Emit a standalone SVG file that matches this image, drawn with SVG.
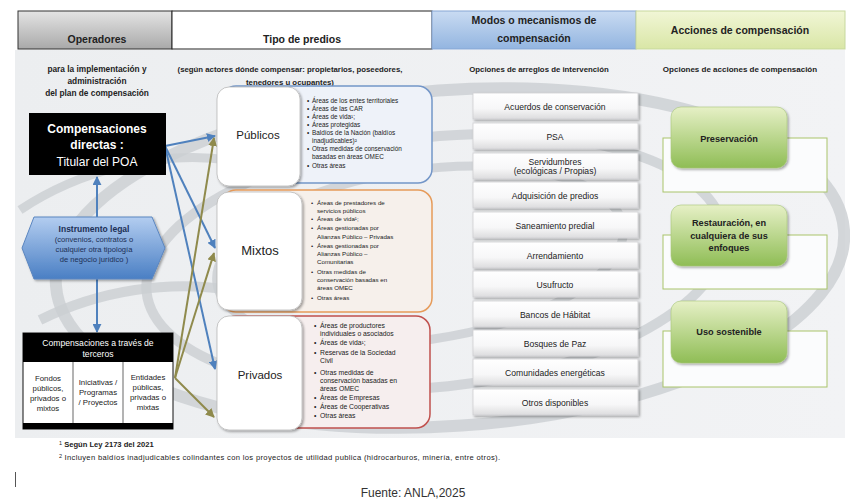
<svg xmlns="http://www.w3.org/2000/svg" width="850" height="504" viewBox="0 0 850 504">
<defs>
<linearGradient id="gGray" x1="0" y1="0" x2="0" y2="1"><stop offset="0" stop-color="#e4e4e4"/><stop offset="1" stop-color="#a9a9a9"/></linearGradient>
<linearGradient id="gBlue" x1="0" y1="0" x2="0" y2="1"><stop offset="0" stop-color="#c9dbf2"/><stop offset="1" stop-color="#93b5e0"/></linearGradient>
<linearGradient id="gLime" x1="0" y1="0" x2="0" y2="1"><stop offset="0" stop-color="#f1f6d6"/><stop offset="1" stop-color="#d9e6a6"/></linearGradient>
<linearGradient id="gBg" x1="0" y1="0" x2="1" y2="0"><stop offset="0" stop-color="#eceef0"/><stop offset="1" stop-color="#f2f3f5"/></linearGradient>
<linearGradient id="gHex" x1="0" y1="0" x2="0" y2="1"><stop offset="0" stop-color="#b3cdf0"/><stop offset="1" stop-color="#4a7fc4"/></linearGradient>
<linearGradient id="gGreen" x1="0" y1="0" x2="0" y2="1"><stop offset="0" stop-color="#e6f0c6"/><stop offset="1" stop-color="#8fbd55"/></linearGradient>
<linearGradient id="gOpt" x1="0" y1="0" x2="0" y2="1"><stop offset="0" stop-color="#ffffff"/><stop offset="0.6" stop-color="#f7f7f8"/><stop offset="1" stop-color="#dcdcde"/></linearGradient>
<filter id="sh" x="-10%" y="-10%" width="125%" height="125%"><feDropShadow dx="1.5" dy="1.5" stdDeviation="1.2" flood-color="#000" flood-opacity="0.35"/></filter>
<marker id="aBlue" viewBox="0 0 10 10" refX="9" refY="5" markerWidth="9" markerHeight="9" markerUnits="userSpaceOnUse" orient="auto"><path d="M0,0 L10,5 L0,10 z" fill="#4f81bd"/></marker>
<marker id="aOlive" viewBox="0 0 10 10" refX="9" refY="5" markerWidth="9" markerHeight="9" markerUnits="userSpaceOnUse" orient="auto"><path d="M0,0 L10,5 L0,10 z" fill="#8f8a4c"/></marker>
</defs>
<style>
text{font-family:"Liberation Sans",Arial,sans-serif;fill:#222}
.hd{font-size:10.5px;font-weight:bold;text-anchor:middle}
.sub{font-size:8.3px;font-weight:bold;text-anchor:middle}
.wb{fill:#fff;font-weight:bold;font-size:12px;text-anchor:middle}
.wn{fill:#fff;font-size:12px;text-anchor:middle}
.hx{font-size:7.6px;text-anchor:middle;fill:#1c2f55}
.col{font-size:7.8px;text-anchor:middle}
.lab{text-anchor:middle}
.bl{font-size:6.4px}
.bm{font-size:6.2px}
.bp{font-size:6.8px}
.opt{font-size:8.6px;text-anchor:middle}
.grn{font-size:9.2px;font-weight:bold;text-anchor:middle}
.ft{font-size:7.6px}
.white{fill:#fff;stroke:#b9b9b9;stroke-width:0.8}
.optbox{fill:url(#gOpt);stroke:#cfcfd2;stroke-width:0.8}
.wrect{fill:#fbfcfd;stroke:#a9c46a;stroke-width:1}
.gbox{fill:url(#gGreen);stroke:#a8c77a;stroke-width:0.6}
.blue{stroke:#4f81bd;stroke-width:2;fill:none;marker-end:url(#aBlue)}
.olive{stroke:#8f8a4c;stroke-width:2;fill:none;marker-end:url(#aOlive)}
.rib{fill:none;stroke:#cbced2;opacity:0.8}
</style>

<!-- background -->
<rect x="15" y="50" width="830" height="388" fill="url(#gBg)"/>
<g id="ribbons">
<ellipse class="rib" cx="450" cy="258" rx="395" ry="168" stroke-width="12" transform="rotate(-4 450 258)"/>
<ellipse class="rib" cx="435" cy="262" rx="290" ry="125" stroke-width="10" transform="rotate(-6 435 262)"/>
<ellipse class="rib" cx="420" cy="255" rx="205" ry="85" stroke-width="9" transform="rotate(-8 420 255)"/>
<path class="rib" d="M20 210 C 80 170, 160 150, 230 160" stroke-width="9"/>
<path class="rib" d="M40 320 C 100 290, 170 280, 230 290" stroke-width="10"/>
</g>

<!-- header -->
<g id="header">
<rect x="18" y="11" width="154" height="38" fill="url(#gGray)" stroke="#333" stroke-width="1"/>
<rect x="172" y="11" width="260" height="38" fill="#fff" stroke="#222" stroke-width="1"/>
<rect x="432" y="11" width="204" height="38" fill="url(#gBlue)" stroke="#86a6d4" stroke-width="1"/>
<rect x="636" y="11" width="209" height="38" fill="url(#gLime)" stroke="#c7d89e" stroke-width="1"/>
<text class="hd" x="97" y="43">Operadores</text>
<text class="hd" x="302" y="43">Tipo de predios</text>
<text class="hd" x="534" y="24">Modos o mecanismos de</text>
<text class="hd" x="534" y="42">compensación</text>
<text class="hd" x="740" y="34">Acciones de compensación</text>
</g>

<g id="subtitles">
<text class="sub" x="97" y="72">para la implementación y</text>
<text class="sub" x="97" y="84">administración</text>
<text class="sub" x="97" y="96">del plan de compensación</text>
<text class="sub" x="290" y="72" style="font-size:7.8px">(según actores dónde compensar: propietarios, poseedores,</text>
<text class="sub" x="290" y="85" style="font-size:7.8px">tenedores u ocupantes)</text>
<text class="sub" x="539" y="72" style="font-size:7.8px">Opciones de arreglos de intervención</text>
<text class="sub" x="740" y="72" style="font-size:8px">Opciones de acciones de compensación</text>
</g>

<!-- connectors -->
<g id="connectors">
<line class="blue" x1="97" y1="217" x2="97" y2="177"/>
<line class="blue" x1="97" y1="279" x2="97" y2="332"/>
<line class="blue" x1="165" y1="146" x2="215" y2="136"/>
<line class="blue" x1="165" y1="146" x2="215" y2="248"/>
<line class="blue" x1="165" y1="146" x2="215" y2="369"/>
<line class="olive" x1="175" y1="378" x2="214" y2="138"/>
<line class="olive" x1="175" y1="378" x2="214" y2="253"/>
<line class="olive" x1="175" y1="378" x2="214" y2="417"/>
</g>

<!-- left column -->
<g id="directas">
<rect x="29" y="113" width="137" height="62" fill="#000"/>
<text class="wb" x="97" y="133">Compensaciones</text>
<text class="wb" x="97" y="149">directas :</text>
<text class="wn" x="97" y="166">Titular del POA</text>
</g>

<g id="instrumento">
<polygon points="34,217 152,217 165,248 152,279 34,279 22,248" fill="url(#gHex)" stroke="#5b86c0" stroke-width="1" filter="url(#sh)"/>
<text class="hx" x="94" y="232" style="font-size:8.5px;font-weight:bold">Instrumento legal</text>
<text class="hx" x="94" y="242">(convenios, contratos o</text>
<text class="hx" x="94" y="252">cualquier otra tipología</text>
<text class="hx" x="94" y="262">de negocio jurídico )</text>
</g>

<g id="terceros">
<rect x="23" y="333" width="150" height="96" fill="#fff" stroke="#111" stroke-width="1"/>
<rect x="23" y="333" width="150" height="29" fill="#000"/>
<rect x="23" y="423" width="150" height="6" fill="#000"/>
<line x1="73" y1="362" x2="73" y2="423" stroke="#9a9a9a" stroke-width="1.5"/>
<line x1="123" y1="362" x2="123" y2="423" stroke="#9a9a9a" stroke-width="1.5"/>
<text class="col" x="98" y="346" style="fill:#fff;font-size:8.6px">Compensaciones a través de</text>
<text class="col" x="98" y="357" style="fill:#fff;font-size:8.6px">terceros</text>
<text class="col" x="48" y="381">Fondos</text>
<text class="col" x="48" y="391">públicos,</text>
<text class="col" x="48" y="401">privados o</text>
<text class="col" x="48" y="411">mixtos</text>
<text class="col" x="98" y="385">Iniciativas /</text>
<text class="col" x="98" y="395">Programas</text>
<text class="col" x="98" y="405">/ Proyectos</text>
<text class="col" x="148" y="380">Entidades</text>
<text class="col" x="148" y="390">públicas,</text>
<text class="col" x="148" y="400">privadas o</text>
<text class="col" x="148" y="410">mixtas</text>
</g>

<!-- middle column -->
<g id="publicos">
<rect x="222" y="86" width="210" height="97" rx="14" fill="#eef2f9" stroke="#7396c8" stroke-width="1.5"/>
<rect class="white" x="217" y="87" width="83" height="99" rx="12" filter="url(#sh)"/>
<text class="lab" x="258" y="139" style="font-size:11.5px">Públicos</text>
<g class="bl">
<text x="307" y="103">•</text><text x="312" y="103">Áreas de los entes territoriales</text>
<text x="307" y="111">•</text><text x="312" y="111">Áreas de las CAR</text>
<text x="307" y="119">•</text><text x="312" y="119">Áreas de vida¹;</text>
<text x="307" y="127">•</text><text x="312" y="127">Áreas protegidas</text>
<text x="307" y="135">•</text><text x="312" y="135">Baldíos de la Nación (baldíos</text>
<text x="312" y="143">inadjudicables)²</text>
<text x="307" y="151">•</text><text x="312" y="151">Otras medidas de conservación</text>
<text x="312" y="159">basadas en áreas OMEC</text>
<text x="307" y="168">•</text><text x="312" y="168">Otras áreas</text>
</g>
</g>

<g id="mixtos">
<rect x="222" y="190" width="210" height="122" rx="14" fill="#f6f0eb" stroke="#e69b5a" stroke-width="1.5"/>
<rect class="white" x="217" y="192" width="85" height="118" rx="12" filter="url(#sh)"/>
<text class="lab" x="260" y="255" style="font-size:13px">Mixtos</text>
<g class="bm">
<text x="311" y="205">•</text><text x="317" y="205">Áreas de prestadores de</text>
<text x="317" y="213">servicios públicos</text>
<text x="311" y="221">•</text><text x="317" y="221">Áreas de vida¹;</text>
<text x="311" y="230">•</text><text x="317" y="230">Áreas gestionadas por</text>
<text x="317" y="239">Alianzas Público – Privadas</text>
<text x="311" y="248">•</text><text x="317" y="248">Áreas gestionadas por</text>
<text x="317" y="256">Alianzas Público –</text>
<text x="317" y="264">Comunitarias</text>
<text x="311" y="274">•</text><text x="317" y="274">Otras medidas de</text>
<text x="317" y="282">conservación basadas en</text>
<text x="317" y="290">áreas OMEC</text>
<text x="311" y="300">•</text><text x="317" y="300">Otras áreas</text>
</g>
</g>

<g id="privados">
<rect x="222" y="316" width="208" height="112" rx="14" fill="#f6eeee" stroke="#c0504d" stroke-width="1.5"/>
<rect class="white" x="217" y="316" width="85" height="114" rx="12" filter="url(#sh)"/>
<text class="lab" x="260" y="379" style="font-size:11.5px">Privados</text>
<g class="bp">
<text x="314" y="328">•</text><text x="320" y="328">Áreas de productores</text>
<text x="320" y="336">individuales o asociados</text>
<text x="314" y="345">•</text><text x="320" y="345">Áreas de vida¹;</text>
<text x="314" y="355">•</text><text x="320" y="355">Reservas de la Sociedad</text>
<text x="320" y="363">Civil</text>
<text x="314" y="375">•</text><text x="320" y="375">Otras medidas de</text>
<text x="320" y="383">conservación basadas en</text>
<text x="320" y="391">áreas OMEC</text>
<text x="314" y="400">•</text><text x="320" y="400">Áreas de Empresas</text>
<text x="314" y="409">•</text><text x="320" y="409">Áreas de Cooperativas</text>
<text x="314" y="418">•</text><text x="320" y="418">Otras áreas</text>
</g>
</g>

<!-- options column -->
<g id="opt1"><rect class="optbox" x="473" y="93" width="165" height="26" filter="url(#sh)"/><text class="opt" x="555" y="109.5">Acuerdos de conservación</text></g>
<g id="opt2"><rect class="optbox" x="473" y="123" width="165" height="26" filter="url(#sh)"/><text class="opt" x="555" y="139.5">PSA</text></g>
<g id="opt3"><rect class="optbox" x="473" y="153" width="165" height="26" filter="url(#sh)"/><text class="opt" x="555" y="164.5">Servidumbres</text><text class="opt" x="555" y="174">(ecológicas / Propias)</text></g>
<g id="opt4"><rect class="optbox" x="473" y="182" width="165" height="26" filter="url(#sh)"/><text class="opt" x="555" y="198.5">Adquisición de predios</text></g>
<g id="opt5"><rect class="optbox" x="473" y="212" width="165" height="26" filter="url(#sh)"/><text class="opt" x="555" y="228.5">Saneamiento predial</text></g>
<g id="opt6"><rect class="optbox" x="473" y="242" width="165" height="26" filter="url(#sh)"/><text class="opt" x="555" y="258.5">Arrendamiento</text></g>
<g id="opt7"><rect class="optbox" x="473" y="271" width="165" height="26" filter="url(#sh)"/><text class="opt" x="555" y="287.5">Usufructo</text></g>
<g id="opt8"><rect class="optbox" x="473" y="301" width="165" height="26" filter="url(#sh)"/><text class="opt" x="555" y="317.5">Bancos de Hábitat</text></g>
<g id="opt9"><rect class="optbox" x="473" y="330" width="165" height="26" filter="url(#sh)"/><text class="opt" x="555" y="346.5">Bosques de Paz</text></g>
<g id="opt10"><rect class="optbox" x="473" y="359" width="165" height="26" filter="url(#sh)"/><text class="opt" x="555" y="375.5">Comunidades energéticas</text></g>
<g id="opt11"><rect class="optbox" x="473" y="389" width="165" height="26" filter="url(#sh)"/><text class="opt" x="555" y="405.5">Otros disponibles</text></g>

<!-- right column -->
<g id="preservacion">
<rect class="wrect" x="663" y="138" width="164" height="54"/>
<rect class="gbox" x="671" y="107" width="116" height="61" rx="10" filter="url(#sh)"/>
<text class="grn" x="729" y="142">Preservación</text>
</g>
<g id="restauracion">
<rect class="wrect" x="663" y="235" width="164" height="54"/>
<rect class="gbox" x="671" y="205" width="116" height="61" rx="10" filter="url(#sh)"/>
<text class="grn" x="729" y="226">Restauración, en</text>
<text class="grn" x="729" y="239">cualquiera de sus</text>
<text class="grn" x="729" y="251">enfoques</text>
</g>
<g id="uso">
<rect class="wrect" x="663" y="331" width="164" height="56"/>
<rect class="gbox" x="671" y="301" width="116" height="62" rx="10" filter="url(#sh)"/>
<text class="grn" x="729" y="335">Uso sostenible</text>
</g>

<!-- footer -->
<g id="footer">
<text class="ft" x="59" y="447"><tspan style="font-size:5.5px" dy="-2.5">1</tspan><tspan dy="2.5" font-weight="bold"> Según Ley 2173 del 2021</tspan></text>
<text class="ft" x="59" y="460"><tspan style="font-size:5.5px" dy="-2.5">2</tspan><tspan dy="2.5" textLength="438" lengthAdjust="spacing"> Incluyen baldíos inadjudicables  colindantes con los proyectos de utilidad publica (hidrocarburos, minería, entre otros).</tspan></text>
<line x1="15.5" y1="472" x2="15.5" y2="487" stroke="#555" stroke-width="1"/>
<text x="413" y="497" style="font-size:12px;fill:#333;text-anchor:middle">Fuente: ANLA,2025</text>
</g>
</svg>
